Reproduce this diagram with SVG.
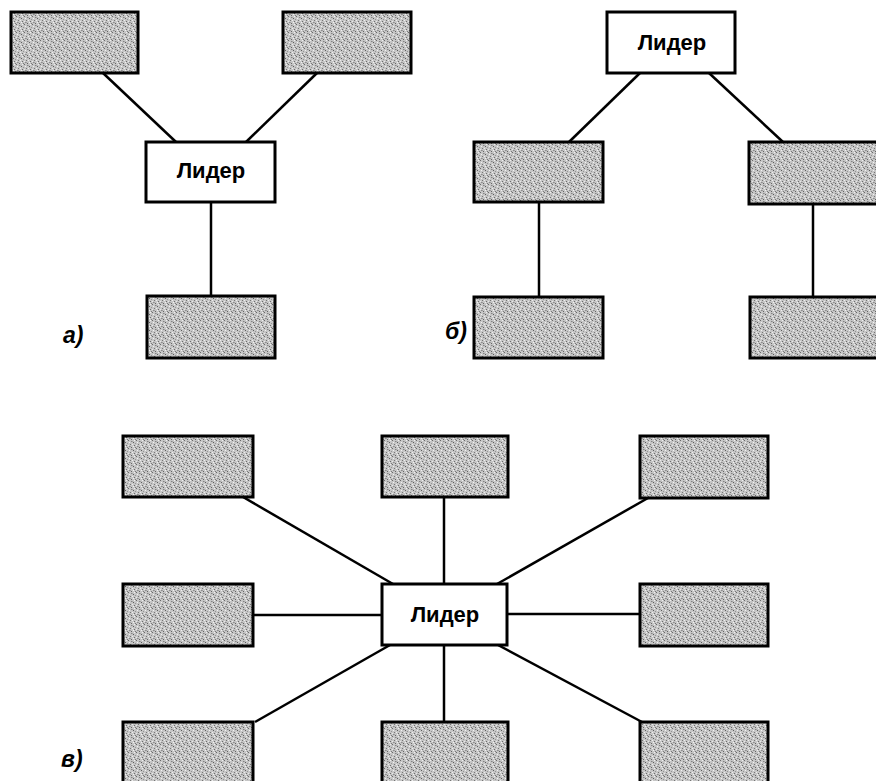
<svg xmlns="http://www.w3.org/2000/svg" width="876" height="781" viewBox="0 0 876 781">
<style>
.box{stroke:#000;stroke-width:3}
.shaded{fill:url(#stipple)}
.leader{fill:#fff}
.lbl{font-family:"Liberation Sans",Arial,sans-serif;font-weight:bold;font-size:22px;fill:#000;text-anchor:middle}
.tag{font-family:"Liberation Sans",Arial,sans-serif;font-weight:bold;font-style:italic;font-size:23px;fill:#000}
#connectors line{stroke:#000;stroke-width:2.5;fill:none}
</style>
<defs>
<pattern id="stipple" width="8" height="8" patternUnits="userSpaceOnUse">
<rect width="8" height="8" fill="#c6c6c6"/>
<rect x="0" y="0" width="1" height="1" fill="#6a6a6a"/>
<rect x="3" y="1" width="1" height="1" fill="#858585"/>
<rect x="6" y="0" width="1" height="1" fill="#f0f0f0"/>
<rect x="1" y="2" width="1" height="1" fill="#f3f3f3"/>
<rect x="5" y="2" width="1" height="1" fill="#5e5e5e"/>
<rect x="7" y="3" width="1" height="1" fill="#959595"/>
<rect x="2" y="4" width="1" height="1" fill="#767676"/>
<rect x="4" y="4" width="1" height="1" fill="#eeeeee"/>
<rect x="6" y="5" width="1" height="1" fill="#6c6c6c"/>
<rect x="0" y="5" width="1" height="1" fill="#e8e8e8"/>
<rect x="1" y="6" width="1" height="1" fill="#8c8c8c"/>
<rect x="3" y="7" width="1" height="1" fill="#666666"/>
<rect x="5" y="6" width="1" height="1" fill="#f2f2f2"/>
<rect x="7" y="7" width="1" height="1" fill="#7c7c7c"/>
<rect x="4" y="1" width="1" height="1" fill="#a4a4a4"/>
<rect x="2" y="6" width="1" height="1" fill="#9e9e9e"/>
</pattern>
</defs>

<g id="connectors">
<line x1="103" y1="73" x2="176" y2="142"/>
<line x1="317" y1="73" x2="246" y2="142"/>
<line x1="211" y1="202" x2="211" y2="296"/>
<line x1="640" y1="73" x2="569" y2="142"/>
<line x1="709" y1="73" x2="783" y2="142"/>
<line x1="539" y1="202" x2="539" y2="297"/>
<line x1="813" y1="204" x2="813" y2="297"/>
<line x1="243" y1="497" x2="393" y2="584"/>
<line x1="444" y1="497" x2="444" y2="584"/>
<line x1="648" y1="498" x2="497" y2="584"/>
<line x1="253" y1="615" x2="382" y2="615"/>
<line x1="507" y1="614" x2="640" y2="614"/>
<line x1="255" y1="722" x2="390" y2="645"/>
<line x1="444" y1="645" x2="444" y2="722"/>
<line x1="498" y1="645" x2="642" y2="722"/>
</g>

<g id="a-top-left"><rect class="box shaded" x="11" y="12" width="127" height="61"/></g>
<g id="a-top-right"><rect class="box shaded" x="283" y="12" width="128" height="61"/></g>
<g id="a-leader"><rect class="box leader" x="146" y="142" width="129" height="60"/><text class="lbl" x="211" y="178">Лидер</text></g>
<g id="a-bottom"><rect class="box shaded" x="147" y="296" width="128" height="62"/></g>
<text class="tag" x="63" y="343">а)</text>

<g id="b-leader"><rect class="box leader" x="607" y="12" width="128" height="61"/><text class="lbl" x="672" y="50">Лидер</text></g>
<g id="b-mid-left"><rect class="box shaded" x="474" y="142" width="129" height="60"/></g>
<g id="b-mid-right"><rect class="box shaded" x="749" y="142" width="129" height="62"/></g>
<g id="b-bottom-left"><rect class="box shaded" x="474" y="297" width="129" height="61"/></g>
<g id="b-bottom-right"><rect class="box shaded" x="750" y="297" width="128" height="61"/></g>
<text class="tag" x="445" y="339">б)</text>

<g id="c-top-left"><rect class="box shaded" x="123" y="436" width="130" height="61"/></g>
<g id="c-top-mid"><rect class="box shaded" x="382" y="436" width="126" height="61"/></g>
<g id="c-top-right"><rect class="box shaded" x="640" y="436" width="128" height="62"/></g>
<g id="c-mid-left"><rect class="box shaded" x="123" y="584" width="130" height="62"/></g>
<g id="c-leader"><rect class="box leader" x="382" y="584" width="125" height="61"/><text class="lbl" x="445" y="622">Лидер</text></g>
<g id="c-mid-right"><rect class="box shaded" x="640" y="584" width="128" height="62"/></g>
<g id="c-bottom-left"><rect class="box shaded" x="123" y="722" width="130" height="62"/></g>
<g id="c-bottom-mid"><rect class="box shaded" x="382" y="722" width="126" height="62"/></g>
<g id="c-bottom-right"><rect class="box shaded" x="640" y="722" width="128" height="62"/></g>
<text class="tag" x="61" y="767">в)</text>
</svg>
